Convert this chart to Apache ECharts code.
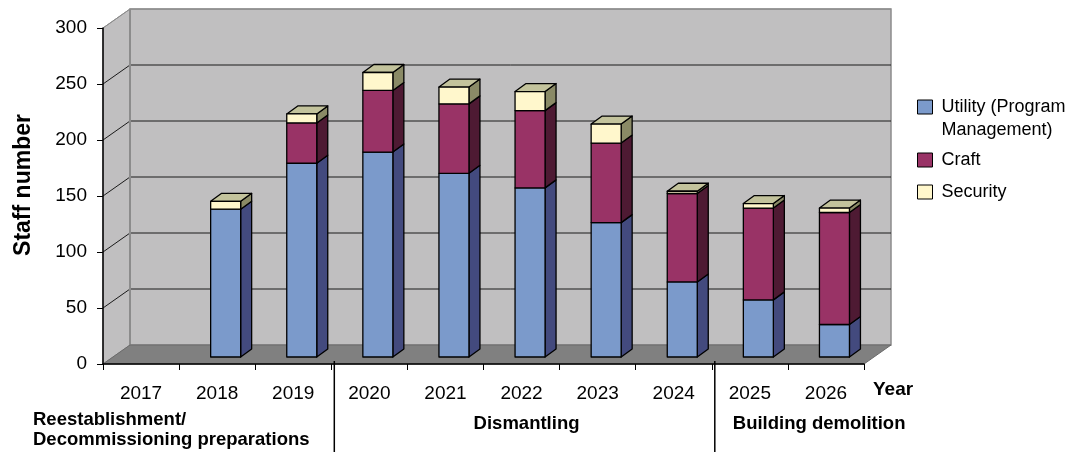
<!DOCTYPE html>
<html>
<head>
<meta charset="utf-8">
<script src="https://cdn.jsdelivr.net/npm/echarts@6/dist/echarts.min.js"></script>
<style>
html,body{margin:0;padding:0;background:#fff;}
#chart{width:1070px;height:452px;}
</style>
</head>
<body>
<div id="chart"></div>
<script>
// ---- data ----
const years = ['2017','2018','2019','2020','2021','2022','2023','2024','2025','2026'];
const utility = [0, 132, 173, 183, 164, 151, 120, 67, 51, 29];
const craft = [0, 0, 36, 55, 62, 69, 71, 79, 82, 100];
const security = [0, 7, 8, 16, 15, 17, 17, 2, 4, 4];
const seriesNames = ['Utility (Program Management)', 'Craft', 'Security'];
const yTicks = [0, 50, 100, 150, 200, 250, 300];
const phaseNames = ['Reestablishment/\nDecommissioning preparations', 'Dismantling', 'Building demolition'];
const phaseSpans = [3, 5, 2]; // number of years in each phase
const xAxisTitle = 'Year';

// ---- style ----
const FONT = '"Liberation Sans", Arial, sans-serif';
const faceColors = [
  {front:'#7B9ACB', side:'#434A7E', top:'#5E72A5'},
  {front:'#993366', side:'#4E1A33', top:'#73264D'},
  {front:'#FFF7CC', side:'#8A8A66', top:'#C3C39C'}
];
const WALL_DX = 27, WALL_DY = -19;
const BAR_DX = 8.5, BAR_DY = -7;
const DEP_DX = 11, DEP_DY = -8;
const BAR_W = 30;
const stacks = [utility, craft, security];

function wallsRender(params, api) {
  const cs = params.coordSys;
  const L = cs.x, R = cs.x + cs.width, T = cs.y, B = cs.y + cs.height;
  const ch = [];
  // left wall
  ch.push({type:'polygon', shape:{points:[[L,T],[L+WALL_DX,T+WALL_DY],[L+WALL_DX,B+WALL_DY],[L,B]]},
    style:{fill:'#C0BFC0', stroke:'#8C8C8C', lineWidth:1}});
  // back wall
  ch.push({type:'rect', shape:{x:L+WALL_DX, y:T+WALL_DY, width:cs.width, height:cs.height},
    style:{fill:'#C0BFC0', stroke:'#8C8C8C', lineWidth:1.5}});
  // grid lines
  yTicks.forEach(function(v){
    if (v === 0) return;
    const y = api.coord([0, v])[1];
    const col = v === yTicks[yTicks.length-1] ? '#8C8C8C' : '#1a1a1a';
    ch.push({type:'line', shape:{x1:L+WALL_DX, y1:y+WALL_DY, x2:R+WALL_DX, y2:y+WALL_DY}, style:{stroke:col, lineWidth:1}});
    ch.push({type:'line', shape:{x1:L, y1:y, x2:L+WALL_DX, y2:y+WALL_DY}, style:{stroke:col, lineWidth:1}});
  });
  // corner line
  ch.push({type:'line', shape:{x1:L+WALL_DX, y1:T+WALL_DY, x2:L+WALL_DX, y2:B+WALL_DY}, style:{stroke:'#8C8C8C', lineWidth:2}});
  // floor
  ch.push({type:'polygon', shape:{points:[[L,B],[R,B],[R+WALL_DX,B+WALL_DY],[L+WALL_DX,B+WALL_DY]]},
    style:{fill:'#808080', stroke:'#6a6a6a', lineWidth:1}});
  // x axis title
  ch.push({type:'text', style:{text:xAxisTitle, x:R+9, y:B+26, align:'left', verticalAlign:'middle',
    font:'bold 19px ' + FONT, fill:'#000'}});
  // phase dividers and labels
  const step = cs.width / years.length;
  let idx = 0;
  phaseNames.forEach(function(name, k){
    const x0 = L + idx * step;
    idx += phaseSpans[k];
    const x1 = L + idx * step;
    if (k < phaseNames.length - 1) {
      ch.push({type:'line', shape:{x1:x1+3, y1:B-3, x2:x1+3, y2:B+90}, style:{stroke:'#000', lineWidth:1.5}});
    }
    let tx, align, ty;
    if (k === 0) { tx = x0 - 70; align = 'left'; ty = B + 66; }
    else if (k === 1) { tx = (x0 + x1) / 2 + 5; align = 'center'; ty = B + 60; }
    else { tx = x0 + 21; align = 'left'; ty = B + 60; }
    ch.push({type:'text', style:{text:name, x:tx, y:ty, align:align, verticalAlign:'middle',
      font:'bold 18.5px ' + FONT, lineHeight:20, fill:'#000'}});
  });
  return {type:'group', children:ch};
}

function makeBarRender(layer) {
  return function(params, api) {
    const i = api.value(0);
    const v = api.value(1);
    if (!v) return null;
    let base = 0;
    for (let k = 0; k < layer; k++) base += stacks[k][i];
    let isTop = true;
    for (let k = layer + 1; k < stacks.length; k++) if (stacks[k][i] > 0) isTop = false;
    const p0 = api.coord([i, base]);
    const p1 = api.coord([i, base + v]);
    const xc = p0[0] + BAR_DX;
    const x0 = xc - BAR_W / 2, x1 = xc + BAR_W / 2;
    const yb = p0[1] + BAR_DY, yt = p1[1] + BAR_DY;
    const c = faceColors[layer];
    const ls = {stroke:'#000', lineWidth:1.3, lineJoin:'round'};
    const ch = [];
    ch.push({type:'polygon', shape:{points:[[x1,yt],[x1+DEP_DX,yt+DEP_DY],[x1+DEP_DX,yb+DEP_DY],[x1,yb]]},
      style:Object.assign({fill:c.side}, ls)});
    if (isTop) {
      ch.push({type:'polygon', shape:{points:[[x0,yt],[x1,yt],[x1+DEP_DX,yt+DEP_DY],[x0+DEP_DX,yt+DEP_DY]]},
        style:Object.assign({fill:faceColors[2].top}, ls)});
    }
    ch.push({type:'rect', shape:{x:x0, y:yt, width:BAR_W, height:yb-yt}, style:Object.assign({fill:c.front}, ls)});
    return {type:'group', children:ch};
  };
}

const chart = echarts.init(document.getElementById('chart'), null, {renderer:'canvas'});

const legendTops = [95.5, 150, 182];
const legends = seriesNames.map(function(n, k){
  const multi = k === 0;
  return {
    left: 917, top: legendTops[k], padding: 0, orient:'vertical',
    itemWidth: 15, itemHeight: multi ? 37 : 14, selectedMode: false,
    data: [{name:n,
      icon: multi ? 'path://M0,0L15,0L15,14L0,14Z M0,37' : 'rect',
      itemStyle:{color:faceColors[k].front, borderColor:'#000', borderWidth:1}}],
    formatter: multi ? function(){ return 'Utility (Program\nManagement)'; } : undefined,
    textStyle: {fontFamily:FONT, fontSize:18, color:'#000', lineHeight: multi ? 23 : 20,
      padding: [0, 0, 0, 4]}
  };
});

const option = {
  animation: false,
  backgroundColor: '#fff',
  grid: {left:103, right:206, top:28, bottom:88, containLabel:false},
  legend: legends,
  xAxis: {
    type:'category', data: years, z: 10,
    axisLine: {lineStyle:{color:'#000', width:1.5}},
    axisTick: {show:true, length:6, lineStyle:{color:'#000', width:1}},
    axisLabel: {fontFamily:FONT, fontSize:19, color:'#000', margin:20},
    splitLine: {show:false}
  },
  yAxis: {
    type:'value', min:0, max:300, interval:50, z: 10,
    name: 'Staff number', nameLocation:'middle', nameRotate:90, nameGap: 68,
    nameTextStyle: {fontFamily:FONT, fontSize:23, fontWeight:'bold', color:'#000', padding:[0,0,0,22]},
    axisLine: {show:true, lineStyle:{color:'#000', width:1.5}},
    axisTick: {show:true, length:6, lineStyle:{color:'#000', width:1}},
    axisLabel: {fontFamily:FONT, fontSize:19, color:'#000', margin:16},
    splitLine: {show:false}
  },
  series: [
    {type:'custom', name:'walls', z:1, silent:true, clip:false, renderItem: wallsRender, data:[[0, 0]]},
    {type:'custom', name:seriesNames[0], z:3, clip:false, renderItem: makeBarRender(0),
      itemStyle:{color:faceColors[0].front}, data: utility.map(function(v,i){return [i, v];})},
    {type:'custom', name:seriesNames[1], z:3, clip:false, renderItem: makeBarRender(1),
      itemStyle:{color:faceColors[1].front}, data: craft.map(function(v,i){return [i, v];})},
    {type:'custom', name:seriesNames[2], z:3, clip:false, renderItem: makeBarRender(2),
      itemStyle:{color:faceColors[2].front}, data: security.map(function(v,i){return [i, v];})}
  ]
};
chart.setOption(option);
</script>
</body>
</html>
